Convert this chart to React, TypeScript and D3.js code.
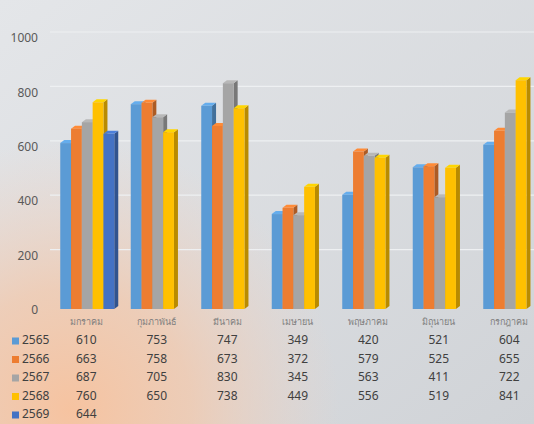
import * as d3 from 'd3';

const months = ['มกราคม', 'กุมภาพันธ์', 'มีนาคม', 'เมษายน', 'พฤษภาคม', 'มิถุนายน', 'กรกฎาคม'];
const years = ['2565', '2566', '2567', '2568', '2569'];
const v2565 = [610, 753, 747, 349, 420, 521, 604];
const v2566 = [663, 758, 673, 372, 579, 525, 655];
const v2567 = [687, 705, 830, 345, 563, 411, 722];
const v2568 = [760, 650, 738, 449, 556, 519, 841];
const v2569 = [644, null, null, null, null, null, null];
const yTicks = [0, 200, 400, 600, 800, 1000];

const series = [v2565, v2566, v2567, v2568, v2569];
const colors = ['#5B9BD5', '#ED7D31', '#A5A5A5', '#FFC000', '#4472C4'];

const width = 534,
  height = 424;

export default function App() {
  const x = d3.scaleBand<string>().domain(months).range([51, 544.5]);
  const x1 = d3.scaleBand<string>().domain(years).range([-26, 28]);
  const y = d3.scaleLinear().domain([0, 1000]).range([309, 37]);
  const depth = 4,
    rise = 3;
  const font = "'Noto Sans', 'Open Sans', sans-serif";

  const bars: any[] = [];
  series.forEach((vals, si) => {
    vals.forEach((v, mi) => {
      if (v == null) return;
      bars.push({ year: years[si], month: months[mi], v, si });
    });
  });

  return (
    <div style={{ position: 'fixed', left: 0, top: 0, width, height, overflow: 'hidden' }}>
      <svg width={width} height={height} style={{ display: 'block' }}>
        <defs>
          <linearGradient id="bg" x1="0" y1="0" x2="1" y2="1">
            <stop offset="0" stopColor="#e4e6e9" />
            <stop offset="1" stopColor="#d0d3d7" />
          </linearGradient>
          <radialGradient id="glow" cx="70" cy="410" r="270" gradientUnits="userSpaceOnUse">
            <stop offset="0" stopColor="#f6c3a0" stopOpacity="1" />
            <stop offset="0.45" stopColor="#f3c8ab" stopOpacity="0.75" />
            <stop offset="1" stopColor="#f2d2c0" stopOpacity="0" />
          </radialGradient>
        </defs>
        <rect width={width} height={height} fill="url(#bg)" />
        <rect width={width} height={height} fill="url(#glow)" />

        {yTicks.slice(1).map((t) => (
          <line
            key={t}
            x1={50}
            x2={width}
            y1={y(t) - 5}
            y2={y(t) - 5}
            stroke="#eef0f2"
            strokeWidth={1.2}
          />
        ))}
        {yTicks.map((t) => (
          <text
            key={t}
            x={38}
            y={y(t) + 2}
            textAnchor="end"
            dominantBaseline="middle"
            fontFamily={font}
            fontSize={12}
            fill="#595959"
          >
            {t}
          </text>
        ))}

        {bars.map((b) => {
          const x0 = x(b.month)! + x.bandwidth() / 2 + x1(b.year)!;
          const w = x1.bandwidth();
          const top = y(b.v);
          const base = y(0);
          const c = d3.color(colors[b.si])!;
          const dark = c.darker(0.9).toString();
          const light = c.brighter(0.3).toString();
          return (
            <g key={b.year + b.month}>
              <polygon
                points={`${x0 + w},${top} ${x0 + w + depth},${top - rise} ${x0 + w + depth},${base - rise} ${x0 + w},${base}`}
                fill={dark}
              />
              <polygon
                points={`${x0},${top} ${x0 + depth},${top - rise} ${x0 + w + depth},${top - rise} ${x0 + w},${top}`}
                fill={light}
              />
              <rect x={x0} y={top} width={w} height={base - top} fill={colors[b.si]} />
            </g>
          );
        })}

        {months.map((m) => (
          <text
            key={m}
            x={x(m)! + x.bandwidth() / 2}
            y={323}
            textAnchor="middle"
            dominantBaseline="middle"
            fontFamily={font}
            fontSize={9}
            fill="#7f7f7f"
          >
            {m}
          </text>
        ))}

        {series.map((vals, si) => {
          const ry = 341 + si * 18.5;
          return (
            <g key={years[si]}>
              <rect x={12} y={ry - 3.5} width={7} height={7} fill={colors[si]} />
              <text
                x={22}
                y={ry}
                dominantBaseline="middle"
                fontFamily={font}
                fontSize={12}
                fill="#404040"
              >
                {years[si]}
              </text>
              {vals.map((v, mi) =>
                v == null ? null : (
                  <text
                    key={mi}
                    x={x(months[mi])! + x.bandwidth() / 2}
                    y={ry}
                    textAnchor="middle"
                    dominantBaseline="middle"
                    fontFamily={font}
                    fontSize={12}
                    fill="#404040"
                  >
                    {v}
                  </text>
                )
              )}
            </g>
          );
        })}
      </svg>
    </div>
  );
}
